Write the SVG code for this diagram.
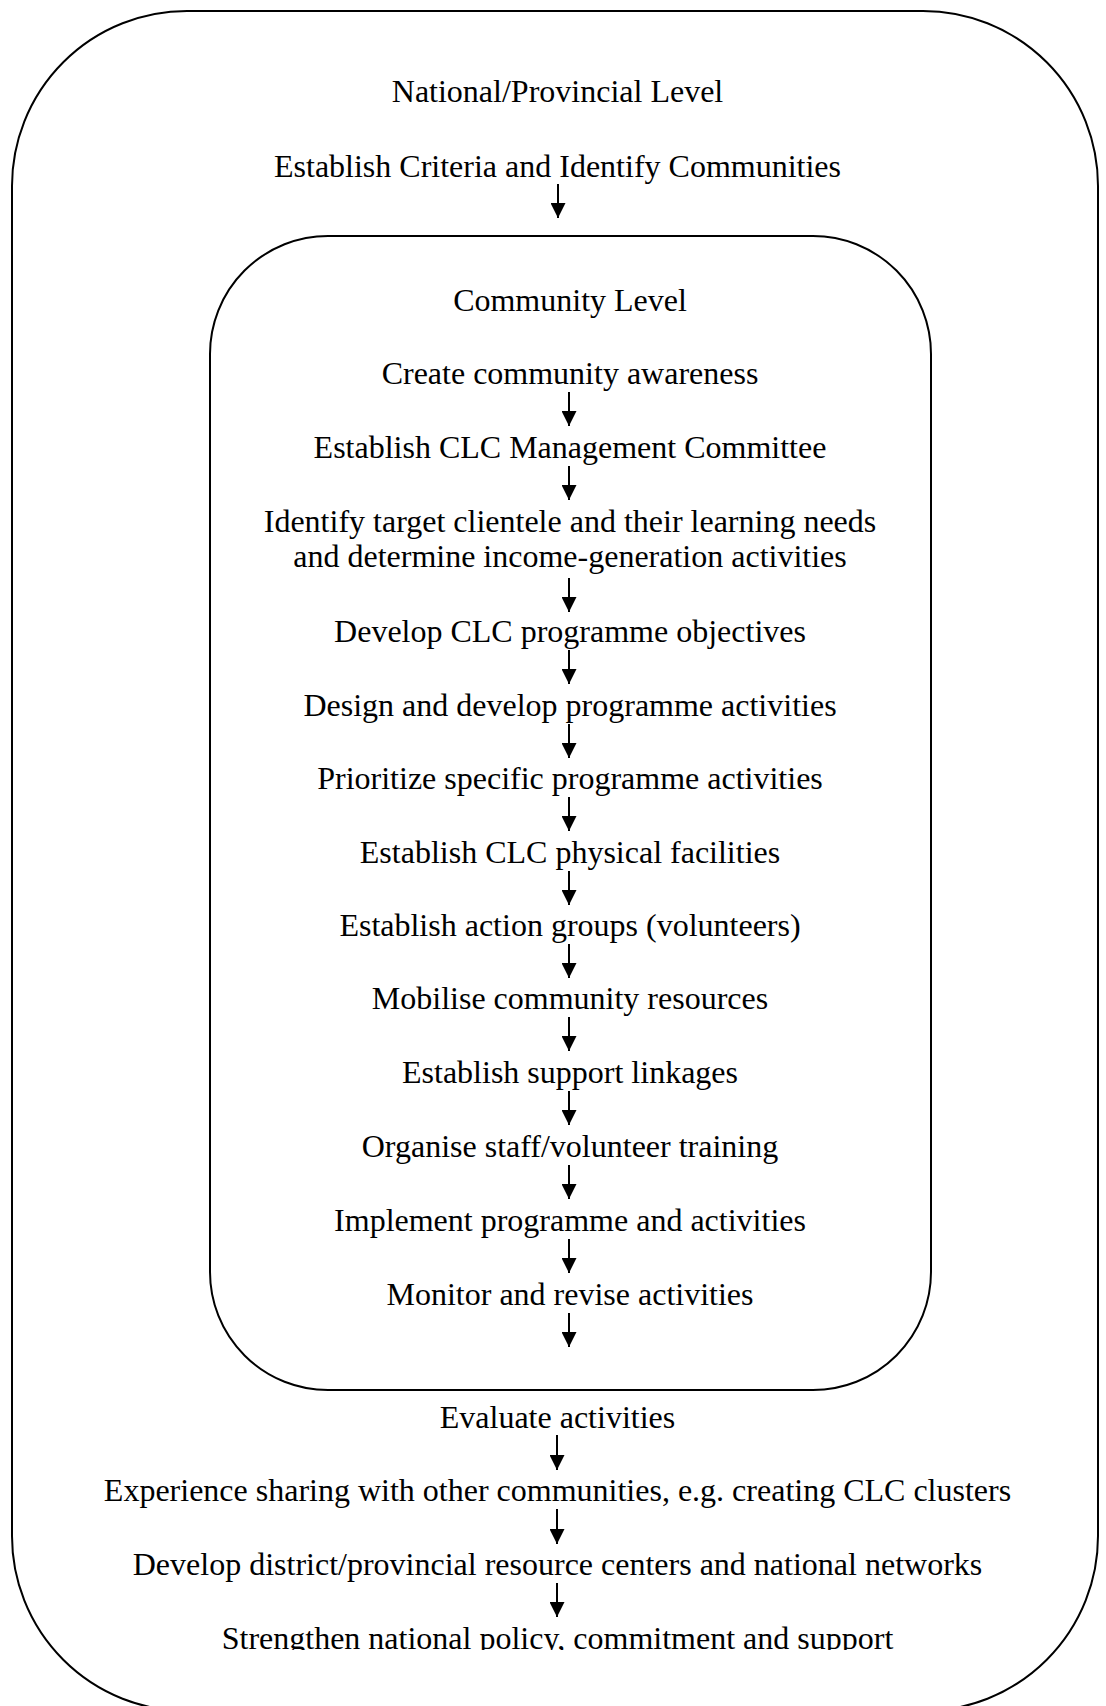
<svg xmlns="http://www.w3.org/2000/svg" width="1106" height="1706" viewBox="0 0 1106 1706">
  <style>
    .frame { fill: none; stroke: #000; stroke-width: 2; }
    .lbl { font-family: "Liberation Serif", "Times New Roman", serif; font-size: 32px; fill: #000; text-anchor: middle; }
    .arrow { stroke: #000; stroke-width: 2; fill: none; marker-end: url(#head); }
  </style>
  <defs>
    <marker id="head" markerUnits="userSpaceOnUse" markerWidth="15" markerHeight="15" viewBox="0 0 15 15" refX="15" refY="7.5" orient="auto">
      <path d="M0,0 L15,7.5 L0,15 Z" fill="#000"/>
    </marker>
    <clipPath id="cut" clipPathUnits="userSpaceOnUse">
      <rect x="0" y="0" width="1106" height="1650"/>
    </clipPath>
  </defs>
  <rect width="1106" height="1706" fill="#fff"/>

  <!-- containers -->
  <g id="national-level">
    <rect class="frame" x="12" y="11" width="1086" height="1700" rx="175" ry="175"/>
  </g>
  <g id="community-level">
    <rect class="frame" x="210" y="236" width="721" height="1154" rx="118" ry="118"/>
  </g>

  <!-- national / provincial steps -->
  <g id="n-national-title"><text class="lbl" x="557.5" y="102">National/Provincial Level</text></g>
  <g id="n-criteria"><text class="lbl" x="557.5" y="177">Establish Criteria and Identify Communities</text></g>

  <!-- community steps -->
  <g id="n-community-title"><text class="lbl" x="570" y="311">Community Level</text></g>
  <g id="n-awareness"><text class="lbl" x="570" y="384">Create community awareness</text></g>
  <g id="n-committee"><text class="lbl" x="570" y="458">Establish CLC Management Committee</text></g>
  <g id="n-clientele">
    <text class="lbl" x="570" y="532">Identify target clientele and their learning needs</text>
    <text class="lbl" x="570" y="567">and determine income-generation activities</text>
  </g>
  <g id="n-objectives"><text class="lbl" x="570" y="642">Develop CLC programme objectives</text></g>
  <g id="n-design"><text class="lbl" x="570" y="716">Design and develop programme activities</text></g>
  <g id="n-prioritize"><text class="lbl" x="570" y="789">Prioritize specific programme activities</text></g>
  <g id="n-facilities"><text class="lbl" x="570" y="863">Establish CLC physical facilities</text></g>
  <g id="n-action-groups"><text class="lbl" x="570" y="936">Establish action groups (volunteers)</text></g>
  <g id="n-resources"><text class="lbl" x="570" y="1009">Mobilise community resources</text></g>
  <g id="n-linkages"><text class="lbl" x="570" y="1083">Establish support linkages</text></g>
  <g id="n-training"><text class="lbl" x="570" y="1157">Organise staff/volunteer training</text></g>
  <g id="n-implement"><text class="lbl" x="570" y="1231">Implement programme and activities</text></g>
  <g id="n-monitor"><text class="lbl" x="570" y="1305">Monitor and revise activities</text></g>

  <!-- follow-up steps -->
  <g id="n-evaluate"><text class="lbl" x="557.5" y="1428">Evaluate activities</text></g>
  <g id="n-sharing"><text class="lbl" x="557.5" y="1501">Experience sharing with other communities, e.g. creating CLC clusters</text></g>
  <g id="n-networks"><text class="lbl" x="557.5" y="1575">Develop district/provincial resource centers and national networks</text></g>
  <g id="n-policy" clip-path="url(#cut)"><text class="lbl" x="557.5" y="1649">Strengthen national policy, commitment and support</text></g>

  <!-- connectors -->
  <g id="connectors">
    <line class="arrow" x1="558" y1="184" x2="558" y2="218"/>
    <line class="arrow" x1="569" y1="392" x2="569" y2="426"/>
    <line class="arrow" x1="569" y1="466" x2="569" y2="500"/>
    <line class="arrow" x1="569" y1="578" x2="569" y2="612"/>
    <line class="arrow" x1="569" y1="650" x2="569" y2="684"/>
    <line class="arrow" x1="569" y1="724" x2="569" y2="758"/>
    <line class="arrow" x1="569" y1="797" x2="569" y2="831"/>
    <line class="arrow" x1="569" y1="871" x2="569" y2="905"/>
    <line class="arrow" x1="569" y1="944" x2="569" y2="978"/>
    <line class="arrow" x1="569" y1="1017" x2="569" y2="1051"/>
    <line class="arrow" x1="569" y1="1091" x2="569" y2="1125"/>
    <line class="arrow" x1="569" y1="1165" x2="569" y2="1199"/>
    <line class="arrow" x1="569" y1="1239" x2="569" y2="1273"/>
    <line class="arrow" x1="569" y1="1313" x2="569" y2="1347"/>
    <line class="arrow" x1="557" y1="1435" x2="557" y2="1470"/>
    <line class="arrow" x1="557" y1="1509" x2="557" y2="1544"/>
    <line class="arrow" x1="557" y1="1583" x2="557" y2="1617"/>
  </g>
</svg>
